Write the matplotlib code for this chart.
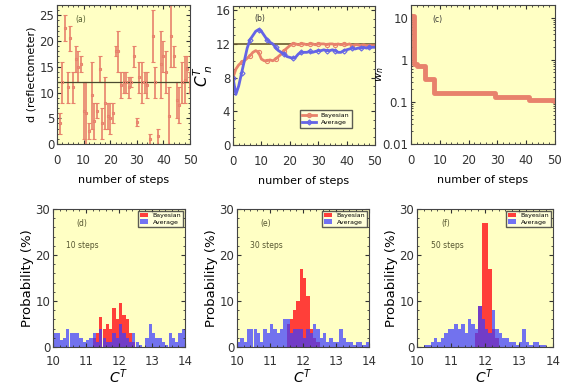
import numpy as np
import matplotlib
matplotlib.use('Agg')
import matplotlib.pyplot as plt
from matplotlib.patches import Patch
from matplotlib.ticker import AutoMinorLocator, LogLocator, NullFormatter

# --- (a) reflectometer estimates per step ---
a_steps = list(range(1, 51))
a_center = [4, 12, 22.5, 11, 20.5, 11, 16.5, 15, 15.5, 6.5,
            6, 2.5, 9.5, 4.5, 6.5, 14.5, 4, 8, 5.5, 5,
            6, 18, 18, 11.5, 12, 12, 11, 12, 17, 4.2,
            13, 12, 12, 11.5, 1, 21, 12, 1.5, 15.5, 17,
            14, 5.5, 21, 17, 8.5, 7.5, 12, 12.5, 14.5, 12]
a_err = [2, 4, 2.5, 3, 2.5, 3, 2.5, 3, 1.5, 5.5,
         6, 1.5, 6.5, 3.5, 1.5, 2.5, 3, 5, 2.5, 3,
         2, 1, 4, 2.5, 2, 2, 2, 1, 2, 0.8,
         3, 4, 2, 2.5, 1, 5, 3, 1.5, 6.5, 3,
         4, 5.5, 6, 2, 3.5, 3.5, 4, 4.5, 2.5, 2]
true_value = 12

# --- (b) running estimate C^T_n ---
b_steps = list(range(0, 51))
bayes_est = [8.0, 9.0, 9.5, 9.8, 10.0, 10.3, 10.6, 11.0, 11.2, 11.0,
             10.2, 10.0, 10.0, 10.1, 10.0, 10.2, 10.5, 10.8, 11.2, 11.5,
             11.8, 12.0, 12.0, 11.9, 12.0, 12.0, 11.9, 12.0, 12.0, 11.9,
             12.0, 12.0, 12.0, 11.9, 12.0, 12.0, 11.9, 12.0, 11.9, 12.0,
             11.9, 12.0, 11.8, 11.9, 11.9, 11.8, 11.9, 11.8, 11.8, 11.8, 11.8]
avg_est = [8.0, 6.0, 7.0, 8.5, 10.0, 11.5, 12.5, 13.0, 13.5, 13.7,
           13.5, 13.0, 12.5, 12.2, 12.0, 11.6, 11.2, 11.0, 10.8, 10.5,
           10.4, 10.3, 10.4, 10.8, 11.0, 11.0, 11.0, 11.1, 11.0, 11.1,
           11.2, 11.2, 11.3, 11.2, 11.2, 11.3, 11.2, 11.0, 11.0, 11.2,
           11.3, 11.4, 11.5, 11.4, 11.5, 11.5, 11.6, 11.5, 11.6, 11.6, 11.6]

# --- (c) width w_n ---
w_n = [11.0, 0.8, 0.7, 0.7, 0.7, 0.35, 0.35, 0.35, 0.16, 0.16,
       0.16, 0.16, 0.16, 0.16, 0.16, 0.16, 0.16, 0.16, 0.16, 0.16,
       0.16, 0.16, 0.16, 0.16, 0.16, 0.16, 0.16, 0.16, 0.16, 0.13,
       0.13, 0.13, 0.13, 0.13, 0.13, 0.13, 0.13, 0.13, 0.13, 0.13,
       0.13, 0.11, 0.11, 0.11, 0.11, 0.11, 0.11, 0.11, 0.11, 0.11, 0.105]

# --- (d)-(f) histograms, bins of 0.1 from 10 to 14 ---
bin_left = [round(10 + 0.1 * i, 1) for i in range(40)]
d_avg = [3, 3, 1.5, 2, 4, 3, 3, 3, 2, 1,
         1.5, 2, 3, 1, 4, 2, 1, 1, 3, 2,
         5, 3, 2, 1, 3, 1, 0.5, 0, 2, 5,
         3, 2, 2, 1, 0.5, 3, 2, 1, 3, 4]
d_bayes = [0, 0, 0, 0, 0, 0, 0, 0, 0, 0,
           0, 0, 2, 3, 6.5, 4, 5, 4, 8.5, 6,
           9.5, 7, 6, 3, 1, 0, 0, 0, 0, 0,
           0, 0, 0, 0, 0, 0, 0, 0, 0, 0]
e_avg = [1, 2, 1, 4, 4, 4, 3, 1, 4, 3,
         5, 4, 3, 4, 6, 6, 3, 4, 4, 4,
         2, 4, 3, 5, 4, 2, 3, 1, 2, 1,
         1, 4, 2, 1, 1, 0.5, 1, 1, 0.5, 1]
e_bayes = [0, 0, 0, 0, 0, 0, 0, 0, 0, 0,
           0, 0, 0, 0, 0, 5, 6, 8, 10, 17,
           15, 11, 4, 2, 1, 0, 0, 0, 0, 0,
           0, 0, 0, 0, 0, 0, 0, 0, 0, 0]
f_avg = [0, 0, 0.5, 0.5, 1, 2, 1, 2, 3, 4,
         4, 5, 4, 5, 3, 6, 5, 4, 9, 6,
         4, 3, 8, 4, 3, 2, 2, 1, 1, 0.5,
         1, 4, 1, 0.5, 1, 1, 0.5, 0.5, 0, 0]
f_bayes = [0, 0, 0, 0, 0, 0, 0, 0, 0, 0,
           0, 0, 0, 0, 0, 0, 0, 3, 9, 27,
           27, 17, 4, 2, 0, 0, 0, 0, 0, 0,
           0, 0, 0, 0, 0, 0, 0, 0, 0, 0]

face = '#ffffc4'
red = '#ff2a2a'
blue = '#3c3cff'
salmon = '#e8826c'

plt.rcParams['font.family'] = 'DejaVu Sans'
plt.rcParams['font.size'] = 8

fig = plt.figure(figsize=(5.61, 3.87), dpi=100)


def style(ax, xpad=5):
    ax.set_facecolor(face)
    ax.tick_params(direction='in', top=True, right=True, which='both',
                   labelsize=8.5, pad=2, colors='#333333')
    ax.tick_params(axis='x', which='major', pad=xpad)
    ax.tick_params(which='major', length=3)
    ax.tick_params(which='minor', length=1.5)
    for s in ax.spines.values():
        s.set_color('#444444')
        s.set_linewidth(0.8)


# (a)
ax = fig.add_axes([57 / 561, 1 - 144 / 387, 133 / 561, 139 / 387])
style(ax, xpad=7)
ax.errorbar(a_steps, a_center, yerr=a_err, fmt='s', ms=2, color=salmon,
            ecolor=salmon, elinewidth=1.2, capsize=1.5, mfc='none', mew=0.8)
ax.axhline(true_value, color='#4a4a30', lw=0.9)
ax.set_xlim(0, 50)
ax.set_ylim(0, 27)
ax.set_xticks([0, 10, 20, 30, 40, 50])
ax.set_yticks([0, 5, 10, 15, 20, 25])
ax.xaxis.set_minor_locator(AutoMinorLocator(5))
ax.yaxis.set_minor_locator(AutoMinorLocator(5))
ax.set_xlabel('number of steps', labelpad=6)
ax.set_ylabel('d (reflectometer)', labelpad=2)
ax.text(0.14, 0.93, '(a)', transform=ax.transAxes, fontsize=5.5, color='#556030',
        va='top')

# (b)
ax = fig.add_axes([233 / 561, 1 - 145 / 387, 142 / 561, 139 / 387])
style(ax, xpad=7)
ax.axhline(true_value, color='#6a5a30', lw=1.2)
ax.plot(b_steps, bayes_est, '-o', color=salmon, lw=2.0, ms=3, mfc='none',
        mew=0.8, markevery=3, label='Bayesian')
ax.plot(b_steps, avg_est, '-D', color='#6464e6', lw=2.0, ms=2.6, mfc='none',
        mew=0.8, markevery=3, label='Average')
ax.set_xlim(0, 50)
ax.set_ylim(0, 16.5)
ax.set_xticks([0, 10, 20, 30, 40, 50])
ax.set_yticks([0, 4, 8, 12, 16])
ax.xaxis.set_minor_locator(AutoMinorLocator(5))
ax.yaxis.set_minor_locator(AutoMinorLocator(4))
ax.set_xlabel('number of steps', labelpad=6)
ax.set_ylabel('$C^{T}_{\\ n}$', fontsize=11, labelpad=0)
ax.text(0.15, 0.94, '(b)', transform=ax.transAxes, fontsize=5.5, color='#333333',
        va='top')
leg = ax.legend(loc='lower right', fontsize=4.5, frameon=True, fancybox=False,
                handlelength=2.2, borderpad=0.4, labelspacing=0.3,
                bbox_to_anchor=(0.86, 0.1))
leg.get_frame().set_edgecolor('#333333')
leg.get_frame().set_linewidth(1.0)
leg.get_frame().set_facecolor('#ffffe0')

# (c)
ax = fig.add_axes([411 / 561, 1 - 144 / 387, 144 / 561, 139 / 387])
style(ax, xpad=7)
ax.step(b_steps, w_n, where='post', color=salmon, lw=3.5)
ax.plot(b_steps[:1], w_n[:1], 'o', color=salmon, ms=3)
ax.set_yscale('log')
ax.set_xlim(0, 50)
ax.set_ylim(0.01, 20)
ax.set_xticks([0, 10, 20, 30, 40, 50])
ax.set_yticks([0.01, 0.1, 1, 10])
ax.set_yticklabels(['0.01', '0.1', '1', '10'])
ax.yaxis.set_minor_locator(LogLocator(subs=np.arange(2, 10)))
ax.yaxis.set_minor_formatter(NullFormatter())
ax.xaxis.set_minor_locator(AutoMinorLocator(5))
ax.set_xlabel('number of steps', labelpad=6)
ax.set_ylabel('$w_n$', labelpad=-3)
ax.text(0.15, 0.93, '(c)', transform=ax.transAxes, fontsize=5.5, color='#333333',
        va='top')

# (d)-(f)
hist_sets = [
    ([53, 185], d_bayes, d_avg, '(d)', '10 steps'),
    ([237, 369], e_bayes, e_avg, '(e)', '30 steps'),
    ([417, 553], f_bayes, f_avg, '(f)', '50 steps'),
]
for (x0, x1), bayes, avg, tag, note in hist_sets:
    ax = fig.add_axes([x0 / 561, 1 - 347 / 387, (x1 - x0) / 561, 138 / 387])
    style(ax, xpad=6)
    ax.bar(bin_left, bayes, width=0.1, align='edge', color=red, alpha=0.9,
           linewidth=0)
    ax.bar(bin_left, avg, width=0.1, align='edge', color=blue, alpha=0.72,
           linewidth=0)
    ax.set_xlim(10, 14)
    ax.set_ylim(0, 30)
    ax.set_xticks([10, 11, 12, 13, 14])
    ax.set_yticks([0, 10, 20, 30])
    ax.xaxis.set_minor_locator(AutoMinorLocator(5))
    ax.yaxis.set_minor_locator(AutoMinorLocator(5))
    ax.set_xlabel('$C^{T}$', fontsize=10, labelpad=-1)
    ax.set_ylabel('Probability (%)', fontsize=9.5, labelpad=1)
    ax.text(0.18, 0.93, tag, transform=ax.transAxes, fontsize=5.5,
            color='#555530', va='top')
    ax.text(0.1, 0.77, note, transform=ax.transAxes, fontsize=5.5,
            color='#555530', va='top')
    handles = [Patch(facecolor=red, alpha=0.9, label='Bayesian'),
               Patch(facecolor=blue, alpha=0.72, label='Average')]
    leg = ax.legend(handles=handles, loc='upper right', fontsize=4.5,
                    frameon=True, fancybox=False, handlelength=1.3,
                    borderpad=0.3, labelspacing=0.2, borderaxespad=0.3)
    leg.get_frame().set_edgecolor('#333333')
    leg.get_frame().set_linewidth(1.0)
    leg.get_frame().set_facecolor('#ffffe0')

fig.savefig('out.png', dpi=100, facecolor='white')
